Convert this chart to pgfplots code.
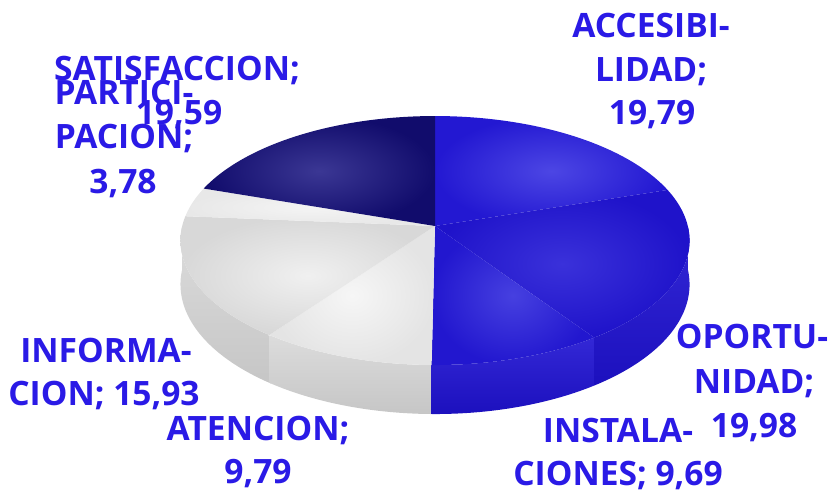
\documentclass[border=0pt]{standalone}
\usepackage{pgfplots}
\pgfplotsset{compat=1.18}
\usepackage{pgfplotstable}
\usepackage{fontspec}
\setmainfont{Open Sans}

\definecolor{lbl}{HTML}{2A1AE6}
\definecolor{navyO}{HTML}{110C6C}
\definecolor{navyI}{HTML}{3B3794}
\definecolor{accO}{HTML}{2318D2}
\definecolor{accI}{HTML}{4C46E4}
\definecolor{opoO}{HTML}{1F13CA}
\definecolor{opoI}{HTML}{3A31DA}
\definecolor{insO}{HTML}{2217CF}
\definecolor{insI}{HTML}{4640E0}
\definecolor{ateO}{HTML}{E4E4E4}
\definecolor{ateI}{HTML}{F6F6F6}
\definecolor{infO}{HTML}{D8D8D8}
\definecolor{infI}{HTML}{F0F0F0}
\definecolor{parO}{HTML}{E8E8E8}
\definecolor{parI}{HTML}{F4F4F4}
\definecolor{sgT}{HTML}{DCDCDC}
\definecolor{sgB}{HTML}{C6C6C6}
\definecolor{sbT}{HTML}{3328D6}
\definecolor{sbB}{HTML}{1C10BE}

\pgfplotstableread{
name value
ACCESIBILIDAD 19.79
OPORTUNIDAD 19.98
INSTALACIONES 9.69
ATENCION 9.79
INFORMACION 15.93
PARTICIPACION 3.78
SATISFACCION 19.59
}\piedata
\pgfplotstablegetelem{0}{value}\of\piedata \let\vA\pgfplotsretval
\pgfplotstablegetelem{1}{value}\of\piedata \let\vB\pgfplotsretval
\pgfplotstablegetelem{2}{value}\of\piedata \let\vC\pgfplotsretval
\pgfplotstablegetelem{3}{value}\of\piedata \let\vD\pgfplotsretval
\pgfplotstablegetelem{4}{value}\of\piedata \let\vE\pgfplotsretval
\pgfplotstablegetelem{5}{value}\of\piedata \let\vF\pgfplotsretval
\pgfplotstablegetelem{6}{value}\of\piedata \let\vG\pgfplotsretval
\pgfmathsetmacro\tot{\vA+\vB+\vC+\vD+\vE+\vF+\vG}
\pgfmathsetmacro\bA{90}
\pgfmathsetmacro\bB{\bA-360*\vA/\tot}
\pgfmathsetmacro\bC{\bB-360*\vB/\tot}
\pgfmathsetmacro\bD{\bC-360*\vC/\tot}
\pgfmathsetmacro\bE{\bD-360*\vD/\tot}
\pgfmathsetmacro\bF{\bE-360*\vE/\tot}
\pgfmathsetmacro\bG{\bF-360*\vF/\tot}
\pgfmathsetmacro\bH{\bG-360*\vG/\tot}
\pgfmathsetmacro\sF{max(\bF,-180)}
\pgfmathsetmacro\sB{min(\bB,0)}
% slight overlaps so that the side segments leave no gaps
\pgfmathsetmacro\oE{\bE+0.5}
\pgfmathsetmacro\oD{\bD+0.5}
\pgfmathsetmacro\oC{\bC+0.5}

\begin{document}%
\begin{tikzpicture}[declare function={
  px(\t)=435+252.8*cos(\t)/(1+0.1165*sin(\t));
  py(\t)=226-122.8*sin(\t)/(1+0.1165*sin(\t));
  dep(\t)=43.3/(1+0.1165*sin(\t));
  sph(\t,\a,\b)=(\t<1)*(\a+(\b-\a)*\t)+(\t>=1)*(\b-(\b-\a)*(\t-1));
  sy(\t,\a,\b)=py(sph(\t,\a,\b))+(\t>=1)*dep(sph(\t,\a,\b));
  sx(\t,\a,\b)=px(sph(\t,\a,\b));
}]
\begin{axis}[scale only axis, width=8.29cm, height=4.89cm,
  xmin=0, xmax=829, ymin=0, ymax=489, y dir=reverse, hide axis, clip=false]
% side walls
\addplot[draw=none, top color=sgT, bottom color=sgB, domain=0:2, samples=161]
  ({sx(x,\sF,\oE)},{sy(x,\sF,\oE)}) -- cycle;
\addplot[draw=none, top color=sgT, bottom color=sgB, domain=0:2, samples=121]
  ({sx(x,\bE,\oD)},{sy(x,\bE,\oD)}) -- cycle;
\addplot[draw=none, top color=sbT, bottom color=sbB, domain=0:2, samples=121]
  ({sx(x,\bD,\oC)},{sy(x,\bD,\oC)}) -- cycle;
\addplot[draw=none, top color=sbT, bottom color=sbB, domain=0:2, samples=161]
  ({sx(x,\bC,\sB)},{sy(x,\bC,\sB)}) -- cycle;
% top faces
\addplot[draw=none, inner color=accI, outer color=accO, domain=\bB:\bA, samples=80]
  ({px(x)},{py(x)}) -- (axis cs:435,226) -- cycle;
\addplot[draw=none, inner color=opoI, outer color=opoO, domain=\bC:\bB, samples=80]
  ({px(x)},{py(x)}) -- (axis cs:435,226) -- cycle;
\addplot[draw=none, inner color=insI, outer color=insO, domain=\bD:\bC, samples=50]
  ({px(x)},{py(x)}) -- (axis cs:435,226) -- cycle;
\addplot[draw=none, inner color=ateI, outer color=ateO, domain=\bE:\bD, samples=50]
  ({px(x)},{py(x)}) -- (axis cs:435,226) -- cycle;
\addplot[draw=none, inner color=infI, outer color=infO, domain=\bF:\bE, samples=70]
  ({px(x)},{py(x)}) -- (axis cs:435,226) -- cycle;
\addplot[draw=none, inner color=parI, outer color=parO, domain=\bG:\bF, samples=30]
  ({px(x)},{py(x)}) -- (axis cs:435,226) -- cycle;
\addplot[draw=none, inner color=navyI, outer color=navyO, domain=\bH:\bG, samples=80]
  ({px(x)},{py(x)}) -- (axis cs:435,226) -- cycle;
% labels
\begin{scope}[every node/.style={text=lbl, anchor=base, inner sep=0pt,
  font=\fontsize{9.55}{12}\selectfont\bfseries}]
\node at (axis cs:651,37) {ACCESIBI-};
\node at (axis cs:651,81) {LIDAD;};
\node at (axis cs:652,124) {19,79};
\node at (axis cs:177,80) {SATISFACCION;};
\node at (axis cs:179,124) {19,59};
\node at (axis cs:124,104) {PARTICI-};
\node at (axis cs:124,148) {PACION;};
\node at (axis cs:123,193) {3,78};
\node at (axis cs:106,362) {INFORMA-};
\node at (axis cs:104,405) {CION; 15,93};
\node at (axis cs:258,440) {ATENCION;};
\node at (axis cs:258,483) {9,79};
\node at (axis cs:752,348) {OPORTU-};
\node at (axis cs:754,393) {NIDAD;};
\node at (axis cs:754,437) {19,98};
\node at (axis cs:618,442) {INSTALA-};
\node at (axis cs:618,485) {CIONES; 9,69};
\end{scope}
\end{axis}
\pgfresetboundingbox
\path (current axis.south west) rectangle (current axis.north east);
\end{tikzpicture}%
\end{document}
